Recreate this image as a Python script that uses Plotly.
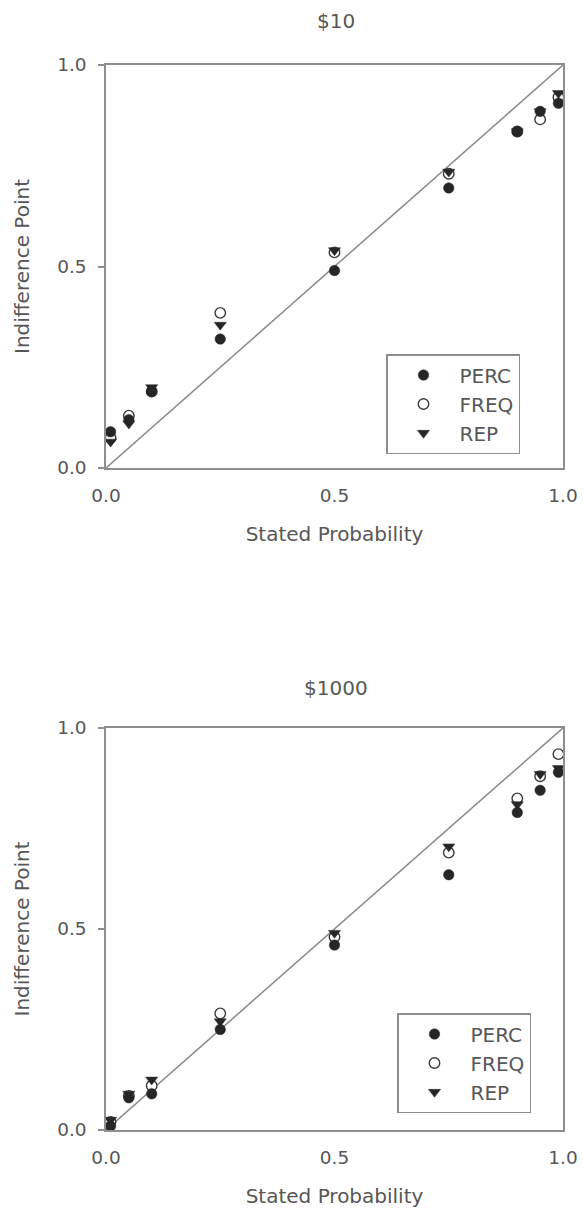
import plotly.graph_objects as go

# Stated probabilities used in both payoff conditions
stated_prob = [0.01, 0.05, 0.1, 0.25, 0.5, 0.75, 0.9, 0.95, 0.99]

# $10 condition: mean indifference points per format
perc_10 = [0.09, 0.12, 0.19, 0.32, 0.49, 0.695, 0.835, 0.885, 0.905]
freq_10 = [0.075, 0.13, 0.19, 0.385, 0.535, 0.73, 0.835, 0.865, 0.92]
rep_10 = [0.065, 0.11, 0.20, 0.355, 0.54, 0.735, 0.835, 0.885, 0.93]

# $1000 condition
perc_1000 = [0.01, 0.08, 0.09, 0.25, 0.46, 0.635, 0.79, 0.845, 0.89]
freq_1000 = [0.02, 0.085, 0.11, 0.29, 0.48, 0.69, 0.825, 0.88, 0.935]
rep_1000 = [0.025, 0.09, 0.125, 0.27, 0.49, 0.705, 0.81, 0.885, 0.90]

# identity line (indifference point equals stated probability)
identity = [0.0, 1.0]

panel_titles = ["$10", "$1000"]
tick_vals = [0.0, 0.5, 1.0]
tick_text = ["0.0", "0.5", "1.0"]

FONT = "DejaVu Sans"
TEXT = "#575757"
AXIS = "#8e8e8e"
MARK = "#262626"

W, H = 583, 1212
fig = go.Figure()

panels = [
    (perc_10, freq_10, rep_10, "x", "y", "legend"),
    (perc_1000, freq_1000, rep_1000, "x2", "y2", "legend2"),
]

for perc, freq, rep, xa, ya, lg in panels:
    fig.add_trace(go.Scatter(
        x=identity, y=identity, mode="lines", xaxis=xa, yaxis=ya,
        line=dict(color="#8a8a8a", width=1.5), showlegend=False,
        hoverinfo="skip"))
    fig.add_trace(go.Scatter(
        x=stated_prob, y=freq, mode="markers", name="FREQ", legend=lg,
        legendrank=2, xaxis=xa, yaxis=ya, cliponaxis=False,
        marker=dict(symbol="circle", size=10.5, color="white",
                    line=dict(color="#3a3a3a", width=1.4))))
    fig.add_trace(go.Scatter(
        x=stated_prob, y=perc, mode="markers", name="PERC", legend=lg,
        legendrank=1, xaxis=xa, yaxis=ya, cliponaxis=False,
        marker=dict(symbol="circle", size=10.5, color=MARK,
                    line=dict(color=MARK, width=0.5))))
    fig.add_trace(go.Scatter(
        x=stated_prob, y=rep, mode="markers", name="REP", legend=lg,
        legendrank=3, xaxis=xa, yaxis=ya, cliponaxis=False,
        marker=dict(symbol="triangle-down", size=10.5, color=MARK,
                    line=dict(color=MARK, width=0.5))))

x_dom = [106 / W, 563 / W]
y_dom_top = [1 - 468 / H, 1 - 65 / H]
y_dom_bot = [1 - 1130 / H, 1 - 728 / H]

axis_common = dict(
    range=[0, 1], showgrid=False, zeroline=False, showline=True,
    mirror=True, linecolor=AXIS, linewidth=1.5, tickvals=tick_vals,
    ticktext=tick_text, tickfont=dict(family=FONT, size=18.5, color=TEXT),
    fixedrange=True, automargin=False,
)

xaxis_style = dict(axis_common, ticks="", ticklabelstandoff=10,
                   title=dict(text="Stated Probability",
                              font=dict(family=FONT, size=20, color=TEXT),
                              standoff=22))
yaxis_style = dict(axis_common, ticks="outside", ticklen=6, tickwidth=1.5,
                   tickcolor=AXIS, ticklabelstandoff=8,
                   title=dict(text="Indifference Point",
                              font=dict(family=FONT, size=20, color=TEXT),
                              standoff=22))

legend_common = dict(xanchor="left", yanchor="top", bordercolor=AXIS,
                     borderwidth=1.5, bgcolor="white", itemwidth=62,
                     font=dict(family=FONT, size=20, color=TEXT))

fig.update_layout(
    width=W, height=H,
    margin=dict(l=0, r=0, t=0, b=0, autoexpand=False),
    paper_bgcolor="white", plot_bgcolor="white",
    font=dict(family=FONT, color=TEXT),
    xaxis=dict(xaxis_style, domain=x_dom, anchor="y"),
    yaxis=dict(yaxis_style, domain=y_dom_top, anchor="x"),
    xaxis2=dict(xaxis_style, domain=x_dom, anchor="y2"),
    yaxis2=dict(yaxis_style, domain=y_dom_bot, anchor="x2"),
    legend=dict(legend_common, x=386 / W, y=1 - 354 / H),
    legend2=dict(legend_common, x=397 / W, y=1 - 1013 / H),
    showlegend=True,
)

# panel headings above each plot
for title, ytop in zip(panel_titles, [21, 688]):
    fig.add_annotation(text=title, xref="paper", yref="paper",
                       x=336 / W, y=1 - ytop / H, showarrow=False,
                       xanchor="center", yanchor="middle",
                       font=dict(family=FONT, size=20, color=TEXT))

fig.write_html("out.html")
